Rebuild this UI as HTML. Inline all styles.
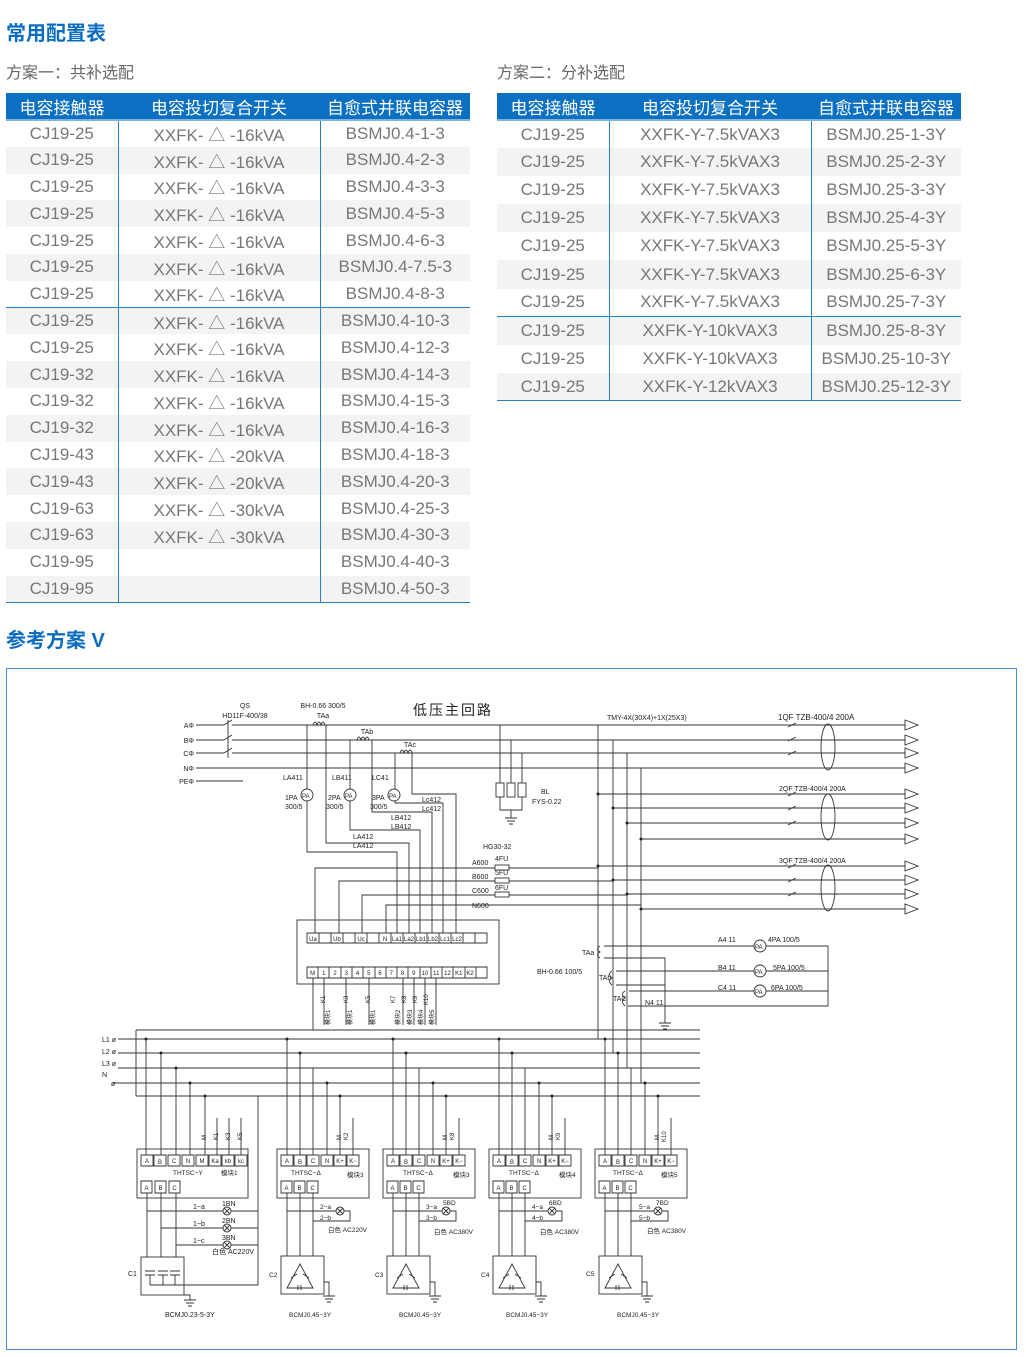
<!DOCTYPE html>
<html><head><meta charset="utf-8">
<style>
*{margin:0;padding:0;box-sizing:border-box}
body{width:1026px;height:1357px;background:#fff;position:relative;font-family:"Liberation Sans","Noto Sans CJK SC",sans-serif;overflow:hidden}
.h{position:absolute;color:#0a6cc0;font-weight:bold;font-size:20px;font-family:"Liberation Sans","Noto Sans CJK SC",sans-serif}
.s{position:absolute;color:#666;font-size:16px}
table{position:absolute;border-collapse:collapse;table-layout:fixed;width:464px;font-size:17px;color:#777}
th{background:#0b70c2;color:#fff;font-weight:normal;height:27px;font-size:17px;border-bottom:2px solid #7fb4de}
td{text-align:center;padding:0;white-space:nowrap}
td+td{border-left:1px solid #2a80c6}
tr:nth-child(even) td{background:#f3f3f3}
tr.sep td{border-top:1px solid #2a80c6}
tbody tr:last-child td{border-bottom:1px solid #2a80c6}
#t1 td{height:26.8px}
#t2 td{height:28.1px}
svg{position:absolute;left:0;top:0}
svg text{font-family:"Liberation Sans","Noto Sans CJK SC",sans-serif;fill:#222}
.c{text-anchor:middle;font-size:6px}
</style></head><body>
<div class="h" style="left:6px;top:17px">常用配置表</div>
<div class="s" style="left:6px;top:59px">方案一：共补选配</div>
<div class="s" style="left:497px;top:59px">方案二：分补选配</div>
<div class="h" style="left:6px;top:624px">参考方案 V</div>

<table id="t1" style="left:6px;top:93px">
<colgroup><col style="width:112px"><col style="width:202px"><col style="width:150px"></colgroup>
<thead><tr><th>电容接触器</th><th>电容投切复合开关</th><th>自愈式并联电容器</th></tr></thead>
<tbody>
<tr><td>CJ19-25</td><td>XXFK- △ -16kVA</td><td>BSMJ0.4-1-3</td></tr>
<tr><td>CJ19-25</td><td>XXFK- △ -16kVA</td><td>BSMJ0.4-2-3</td></tr>
<tr><td>CJ19-25</td><td>XXFK- △ -16kVA</td><td>BSMJ0.4-3-3</td></tr>
<tr><td>CJ19-25</td><td>XXFK- △ -16kVA</td><td>BSMJ0.4-5-3</td></tr>
<tr><td>CJ19-25</td><td>XXFK- △ -16kVA</td><td>BSMJ0.4-6-3</td></tr>
<tr><td>CJ19-25</td><td>XXFK- △ -16kVA</td><td>BSMJ0.4-7.5-3</td></tr>
<tr><td>CJ19-25</td><td>XXFK- △ -16kVA</td><td>BSMJ0.4-8-3</td></tr>
<tr class="sep"><td>CJ19-25</td><td>XXFK- △ -16kVA</td><td>BSMJ0.4-10-3</td></tr>
<tr><td>CJ19-25</td><td>XXFK- △ -16kVA</td><td>BSMJ0.4-12-3</td></tr>
<tr><td>CJ19-32</td><td>XXFK- △ -16kVA</td><td>BSMJ0.4-14-3</td></tr>
<tr><td>CJ19-32</td><td>XXFK- △ -16kVA</td><td>BSMJ0.4-15-3</td></tr>
<tr><td>CJ19-32</td><td>XXFK- △ -16kVA</td><td>BSMJ0.4-16-3</td></tr>
<tr><td>CJ19-43</td><td>XXFK- △ -20kVA</td><td>BSMJ0.4-18-3</td></tr>
<tr><td>CJ19-43</td><td>XXFK- △ -20kVA</td><td>BSMJ0.4-20-3</td></tr>
<tr><td>CJ19-63</td><td>XXFK- △ -30kVA</td><td>BSMJ0.4-25-3</td></tr>
<tr><td>CJ19-63</td><td>XXFK- △ -30kVA</td><td>BSMJ0.4-30-3</td></tr>
<tr><td>CJ19-95</td><td></td><td>BSMJ0.4-40-3</td></tr>
<tr><td>CJ19-95</td><td></td><td>BSMJ0.4-50-3</td></tr>
</tbody></table>

<table id="t2" style="left:497px;top:93px">
<colgroup><col style="width:112px"><col style="width:202px"><col style="width:150px"></colgroup>
<thead><tr><th>电容接触器</th><th>电容投切复合开关</th><th>自愈式并联电容器</th></tr></thead>
<tbody>
<tr><td>CJ19-25</td><td>XXFK-Y-7.5kVAX3</td><td>BSMJ0.25-1-3Y</td></tr>
<tr><td>CJ19-25</td><td>XXFK-Y-7.5kVAX3</td><td>BSMJ0.25-2-3Y</td></tr>
<tr><td>CJ19-25</td><td>XXFK-Y-7.5kVAX3</td><td>BSMJ0.25-3-3Y</td></tr>
<tr><td>CJ19-25</td><td>XXFK-Y-7.5kVAX3</td><td>BSMJ0.25-4-3Y</td></tr>
<tr><td>CJ19-25</td><td>XXFK-Y-7.5kVAX3</td><td>BSMJ0.25-5-3Y</td></tr>
<tr><td>CJ19-25</td><td>XXFK-Y-7.5kVAX3</td><td>BSMJ0.25-6-3Y</td></tr>
<tr><td>CJ19-25</td><td>XXFK-Y-7.5kVAX3</td><td>BSMJ0.25-7-3Y</td></tr>
<tr class="sep"><td>CJ19-25</td><td>XXFK-Y-10kVAX3</td><td>BSMJ0.25-8-3Y</td></tr>
<tr><td>CJ19-25</td><td>XXFK-Y-10kVAX3</td><td>BSMJ0.25-10-3Y</td></tr>
<tr><td>CJ19-25</td><td>XXFK-Y-12kVAX3</td><td>BSMJ0.25-12-3Y</td></tr>
</tbody></table>

<svg width="1026" height="1357" viewBox="0 0 1026 1357">
<rect x="6.5" y="668.5" width="1010" height="681" fill="none" stroke="#4a8fd2" stroke-width="1"/>
<g stroke="#333" stroke-width="0.9" fill="none">
<path d="M196 725H224 M232 725H905 M196 740H224 M232 740H905 M196 753H224 M232 753H905 M196 768H905 M196 781H243"/>
<path d="M224 725L232 720 M224 740L232 735 M224 753L232 748 M228 720V758"/>
<path d="M598 794H905 M613 808H905 M627 823H905 M641 839H905 M598 866H905 M613 880H905 M627 894H905 M641 909H905"/>
<path d="M598 725V1039 M613 740V1053 M627 753V1068 M641 768V1083"/>
<path d="M905 720L918 725L905 730Z M905 735L918 740L905 745Z M905 748L918 753L905 758Z M905 763L918 768L905 773Z M905 789L918 794L905 799Z M905 803L918 808L905 813Z M905 818L918 823L905 828Z M905 834L918 839L905 844Z M905 861L918 866L905 871Z M905 875L918 880L905 885Z M905 889L918 894L905 899Z M905 904L918 909L905 914Z" fill="#fff"/>
<ellipse cx="828" cy="747" rx="7" ry="23"/><ellipse cx="828" cy="817" rx="7" ry="23"/><ellipse cx="828" cy="888" rx="7" ry="23"/>
<path d="M788 727l8-4 M788 741l8-4 M788 755l8-4 M788 796l8-4 M788 810l8-4 M788 825l8-4 M788 868l8-4 M788 882l8-4 M788 896l8-4"/>
<path d="M313 725q2-6 4 0q2-6 4 0q2-6 4 0 M357 740q2-6 4 0q2-6 4 0q2-6 4 0 M400 753q2-6 4 0q2-6 4 0q2-6 4 0"/>
<path d="M313 725H307V852H397V933 M325 725H326V843H409V933 M357 740H350V830H420V933 M369 740H372V812H432V933 M400 753H395V803H443V933 M412 753V794H456V933"/>
<path d="M500 725V783 M511 740V783 M522 753V783 M500 797V810H522V797 M511 810V818 M505 818H517 M507 821H515 M509 824H513"/>
<rect x="496" y="783" width="8" height="14"/><rect x="507" y="783" width="8" height="14"/><rect x="518" y="783" width="8" height="14"/>
<path d="M315 933V868H495 M509 868H598 M339 933V881H495 M509 881H613 M362 933V895H495 M509 895H627 M386 933V905H641"/>
<rect x="495" y="865" width="14" height="5"/><rect x="495" y="878" width="14" height="5"/><rect x="495" y="892" width="14" height="5"/>
<rect x="297" y="920" width="202" height="64"/>
<path d="M307 933H487V943H307Z M307 967H487V978H307Z"/>
<path d="M319 933v10 M331 933v10 M343 933v10 M355 933v10 M367 933v10 M379 933v10 M391 933v10 M403 933v10 M415 933v10 M427 933v10 M439 933v10 M451 933v10 M463 933v10 M475 933v10"/>
<path d="M318 967v11 M329 967v11 M341 967v11 M352 967v11 M363 967v11 M375 967v11 M386 967v11 M397 967v11 M408 967v11 M420 967v11 M431 967v11 M442 967v11 M453 967v11 M465 967v11 M476 967v11"/>
<path d="M313 978V1030 M324 978V1025 M346 978V1025 M369 978V1025 M403 978V1025 M414 978V1025 M425 978V1025 M436 978V1025"/>
<path d="M604 946H828V1006H628 M604 958H665V1023 M659 1023h12 M661 1026h8 M663 1029h4 M616 971H828 M616 985H665 M629 991H828 M600 946q-5 3 0 6q-5 3 0 6 M612 971q-5 3 0 7q-5 3 0 7 M625 991q-5 3 0 7q-5 3 0 8"/>
<circle cx="760" cy="946" r="6" fill="#fff"/><circle cx="760" cy="971" r="6" fill="#fff"/><circle cx="760" cy="991" r="6" fill="#fff"/>
<circle cx="307" cy="795" r="6" fill="#fff"/><circle cx="350" cy="795" r="6" fill="#fff"/><circle cx="394" cy="795" r="6" fill="#fff"/>
<path d="M118 1039H700 M118 1053H700 M118 1068H700 M113 1083H700 M136 1096H700 M136 1030H700 M136 1030V1096"/>
<rect x="137" y="1149" width="111" height="49"/>
<path d="M141 1155h12v11h-12z M154 1155h12v11h-12z M168 1155h12v11h-12z M182 1155h12v11h-12z M196 1155h12v11h-12z M209 1155h12v11h-12z M222 1155h12v11h-12z M235 1155h12v11h-12z M141 1181h11v12h-11z M155 1181h11v12h-11z M169 1181h11v12h-11z"/>
<path d="M146 1039V1155 M161 1053V1155 M176 1068V1155 M190 1083V1155 M205 1096V1155 M217 1118V1155 M229 1118V1155 M241 1118V1155"/>
<path d="M147 1193V1257 M161 1193V1257 M176 1193V1257 M147 1211H258 M161 1228H258 M176 1245H258 M258 1096V1285H184"/>
<rect x="141" y="1257" width="43" height="38"/>
<path d="M145 1271h10 M145 1275h10 M170 1271h10 M170 1275h10 M158 1271h10 M158 1275h10 M150 1275v10 M163 1275v10 M175 1275v10 M150 1285H184 M184 1295H190V1300 M184 1300h12 M186 1303h8 M188 1306h4"/>
<circle cx="227" cy="1211" r="4" fill="#fff"/><circle cx="227" cy="1228" r="4" fill="#fff"/><circle cx="227" cy="1245" r="4" fill="#fff"/>
</g>
<defs>
<g id="mod">
<g stroke="#333" stroke-width="0.9" fill="none">
<rect x="0" y="1149" width="92" height="49"/>
<path d="M4 1155h12v11h-12z M17 1155h12v11h-12z M30 1155h12v11h-12z M44 1155h12v11h-12z M57 1155h12v11h-12z M70 1155h12v11h-12z M4 1181h11v12h-11z M17 1181h11v12h-11z M30 1181h11v12h-11z"/>
<path d="M10 1039V1155 M23 1053V1155 M36 1068V1155 M50 1083V1155 M63 1096V1155 M76 1118V1155"/>
<path d="M10 1193V1256 M23 1193V1256 M36 1193V1256 M10 1211H73V1221H36"/>
<rect x="4" y="1256" width="43" height="38"/>
<path d="M10 1288L23 1264L36 1288Z M14 1278l6-4 M26 1274l6 4 M21 1285v5 M24 1285v5 M47 1282H52V1296 M46 1296h12 M48 1299h8 M50 1302h4"/>
<circle cx="63" cy="1211" r="4" fill="#fff"/>
<path d="M60 1208l6 6 M66 1208l-6 6"/>
</g>
<g font-size="6">
<text class="c" x="10" y="1163">A</text><text class="c" x="23" y="1164">B</text><text class="c" x="36" y="1163">C</text><text class="c" x="50" y="1163">N</text><text class="c" x="63" y="1163">K+</text><text class="c" x="76" y="1163">K−</text>
<text class="c" x="9.5" y="1190">A</text><text class="c" x="22.5" y="1190">B</text><text class="c" x="35.5" y="1190">C</text>
</g>
</g>
</defs>
<use href="#mod" x="277"/><use href="#mod" x="383"/><use href="#mod" x="489"/><use href="#mod" x="595"/>
<g stroke="#333" stroke-width="0.9"><path d="M224 1208l6 6 M230 1208l-6 6 M224 1225l6 6 M230 1225l-6 6 M224 1242l6 6 M230 1242l-6 6"/></g>
<g fill="#222">
<circle cx="146" cy="1039" r="1.5"/><circle cx="161" cy="1053" r="1.5"/><circle cx="176" cy="1068" r="1.5"/><circle cx="190" cy="1083" r="1.5"/><circle cx="205" cy="1096" r="1.5"/>
<circle cx="287" cy="1039" r="1.5"/><circle cx="300" cy="1053" r="1.5"/><circle cx="327" cy="1083" r="1.5"/><circle cx="340" cy="1096" r="1.5"/>
<circle cx="393" cy="1039" r="1.5"/><circle cx="406" cy="1053" r="1.5"/><circle cx="433" cy="1083" r="1.5"/><circle cx="446" cy="1096" r="1.5"/>
<circle cx="499" cy="1039" r="1.5"/><circle cx="512" cy="1053" r="1.5"/><circle cx="539" cy="1083" r="1.5"/><circle cx="552" cy="1096" r="1.5"/>
<circle cx="605" cy="1039" r="1.5"/><circle cx="618" cy="1053" r="1.5"/><circle cx="645" cy="1083" r="1.5"/><circle cx="658" cy="1096" r="1.5"/>
<circle cx="598" cy="794" r="1.5"/><circle cx="613" cy="808" r="1.5"/><circle cx="627" cy="823" r="1.5"/><circle cx="641" cy="839" r="1.5"/>
<circle cx="598" cy="866" r="1.5"/><circle cx="613" cy="880" r="1.5"/><circle cx="627" cy="894" r="1.5"/><circle cx="641" cy="909" r="1.5"/>
</g>
<g font-size="7">
<text x="194" y="728" text-anchor="end">AΦ</text><text x="194" y="743" text-anchor="end">BΦ</text><text x="194" y="756" text-anchor="end">CΦ</text><text x="194" y="771" text-anchor="end">NΦ</text><text x="194" y="784" text-anchor="end">PEΦ</text>
<text x="245" y="708" text-anchor="middle">QS</text><text x="245" y="718" text-anchor="middle">HD11F-400/38</text>
<text x="323" y="708" text-anchor="middle">BH-0.66 300/5</text><text x="323" y="718" text-anchor="middle">TAa</text>
<text x="367" y="734" text-anchor="middle">TAb</text><text x="410" y="747" text-anchor="middle">TAc</text>
<text x="283" y="780">LA411</text><text x="332" y="780">LB411</text><text x="372" y="780">LC41</text>
<text x="285" y="800">1PA</text><text x="285" y="809">300/5</text><text x="328" y="800">2PA</text><text x="326" y="809">300/5</text><text x="372" y="800">3PA</text><text x="370" y="809">300/5</text>
<text x="422" y="802">Lc412</text><text x="422" y="811">Lc412</text><text x="391" y="820">LB412</text><text x="391" y="829">LB412</text><text x="353" y="839">LA412</text><text x="353" y="848">LA412</text>
<text x="541" y="794">BL</text><text x="532" y="804">FYS-0.22</text>
<text x="483" y="849">HG30-32</text>
<text x="472" y="865">A600</text><text x="495" y="861">4FU</text><text x="472" y="879">B600</text><text x="495" y="875">5FU</text><text x="472" y="893">C600</text><text x="495" y="890">6FU</text><text x="472" y="908">N600</text>
<text x="607" y="720">TMY-4X(30X4)+1X(25X3)</text>
<text x="778" y="720" font-size="8">1QF  TZB-400/4  200A</text>
<text x="779" y="791">2QF TZB-400/4 200A</text><text x="779" y="863">3QF TZB-400/4 200A</text>
<text x="718" y="942">A4 11</text><text x="718" y="970">B4 11</text><text x="718" y="990">C4 11</text><text x="645" y="1005">N4 11</text>
<text x="768" y="942">4PA 100/5</text><text x="773" y="970">5PA 100/5</text><text x="771" y="990">6PA 100/5</text>
<text x="755" y="949" font-size="6">PA</text><text x="755" y="974" font-size="6">PA</text><text x="755" y="994" font-size="6">PA</text>
<text x="302" y="798" font-size="6">PA</text><text x="345" y="798" font-size="6">PA</text><text x="389" y="798" font-size="6">PA</text>
<text x="582" y="955">TAa</text><text x="599" y="980">TAb</text><text x="613" y="1001">TAC</text><text x="537" y="974">BH-0.66 100/5</text>
<g font-size="6">
<text class="c" x="313" y="941">Ua</text><text class="c" x="337" y="941">Ub</text><text class="c" x="361" y="941">Uc</text><text class="c" x="385" y="941">N</text>
<text class="c" x="397" y="941" font-size="5">La1</text><text class="c" x="409" y="941" font-size="5">La2</text><text class="c" x="421" y="941" font-size="5">Lb1</text><text class="c" x="433" y="941" font-size="5">Lb2</text><text class="c" x="445" y="941" font-size="5">Lc1</text><text class="c" x="457" y="941" font-size="5">Lc2</text>
<text class="c" x="312.6" y="975">M</text><text class="c" x="323.8" y="975">1</text><text class="c" x="335" y="975">2</text><text class="c" x="346.3" y="975">3</text><text class="c" x="357.5" y="975">4</text><text class="c" x="368.8" y="975">5</text><text class="c" x="380" y="975">6</text><text class="c" x="391.3" y="975">7</text><text class="c" x="402.5" y="975">8</text><text class="c" x="413.8" y="975">9</text><text class="c" x="425" y="975">10</text><text class="c" x="436.3" y="975">11</text><text class="c" x="447.5" y="975">12</text><text class="c" x="458.8" y="975">K1</text><text class="c" x="470" y="975">K2</text>
<text transform="translate(325,1003) rotate(-90)">K1</text><text transform="translate(348,1003) rotate(-90)">K3</text><text transform="translate(370,1003) rotate(-90)">K5</text>
<text transform="translate(395,1003) rotate(-90)">K7</text><text transform="translate(406,1003) rotate(-90)">K8</text><text transform="translate(417,1003) rotate(-90)">K9</text><text transform="translate(428,1005) rotate(-90)">K10</text>
<text transform="translate(330,1025) rotate(-90)">模块1</text><text transform="translate(352,1025) rotate(-90)">模块1</text><text transform="translate(375,1025) rotate(-90)">模块1</text>
<text transform="translate(400,1025) rotate(-90)">模块2</text><text transform="translate(412,1025) rotate(-90)">模块3</text><text transform="translate(423,1025) rotate(-90)">模块4</text><text transform="translate(434,1025) rotate(-90)">模块5</text>
<text transform="translate(206,1140) rotate(-90)">M</text><text transform="translate(218,1140) rotate(-90)">K1</text><text transform="translate(230,1140) rotate(-90)">K3</text><text transform="translate(242,1140) rotate(-90)">K5</text>
<text transform="translate(341,1140) rotate(-90)">M</text><text transform="translate(348,1140) rotate(-90)">K2</text>
<text transform="translate(447,1140) rotate(-90)">M</text><text transform="translate(454,1140) rotate(-90)">K8</text>
<text transform="translate(553,1140) rotate(-90)">M</text><text transform="translate(560,1140) rotate(-90)">K9</text>
<text transform="translate(659,1140) rotate(-90)">M</text><text transform="translate(666,1142) rotate(-90)">K10</text>
<text class="c" x="147" y="1163">A</text><text class="c" x="160" y="1164">B</text><text class="c" x="174" y="1163">C</text><text class="c" x="188" y="1163">N</text><text class="c" x="202" y="1163">M</text><text class="c" x="215" y="1163" font-size="5">Ka</text><text class="c" x="228" y="1163" font-size="5">kb</text><text class="c" x="241" y="1163" font-size="5">kc</text>
<text class="c" x="146.5" y="1190">A</text><text class="c" x="160.5" y="1190">B</text><text class="c" x="174.5" y="1190">C</text>
</g>
<text x="102" y="1042">L1 ø</text><text x="102" y="1054">L2 ø</text><text x="102" y="1066">L3 ø</text><text x="102" y="1077">N</text><text x="111" y="1086">ø</text>
<text x="173" y="1175" font-size="6.5">THTSC−Y</text><text x="221" y="1175" font-size="6.5">模块1</text>
<text x="193" y="1209">1−a</text><text x="193" y="1226">1−b</text><text x="193" y="1243">1−c</text>
<text x="222" y="1206">1BN</text><text x="222" y="1223">2BN</text><text x="222" y="1240">3BN</text><text x="212" y="1254">白色 AC220V</text>
<text x="128" y="1276">C1</text><text x="165" y="1317">BCMJ0.23-5-3Y</text>
<g font-size="6.5">
<text x="291" y="1175">THTSC−Δ</text><text x="347" y="1177">模块3</text>
<text x="320" y="1209">2−a</text><text x="320" y="1220">2−b</text><text x="328" y="1232">白色 AC220V</text><text x="269" y="1277">C2</text><text x="289" y="1317">BCMJ0.45−3Y</text>
<text x="403" y="1175">THTSC−Δ</text><text x="453" y="1177">模块3</text>
<text x="426" y="1209">3−a</text><text x="426" y="1220">3−b</text><text x="443" y="1205">5BD</text><text x="434" y="1234">白色 AC380V</text><text x="375" y="1277">C3</text><text x="399" y="1317">BCMJ0.45−3Y</text>
<text x="509" y="1175">THTSC−Δ</text><text x="559" y="1177">模块4</text>
<text x="532" y="1209">4−a</text><text x="532" y="1220">4−b</text><text x="549" y="1205">6BD</text><text x="540" y="1234">白色 AC380V</text><text x="481" y="1277">C4</text><text x="506" y="1317">BCMJ0.45−3Y</text>
<text x="613" y="1175">THTSC−Δ</text><text x="661" y="1177">模块5</text>
<text x="639" y="1209">5−a</text><text x="639" y="1220">5−b</text><text x="656" y="1205">7BD</text><text x="647" y="1233">白色 AC380V</text><text x="586" y="1276">C5</text><text x="617" y="1317">BCMJ0.45−3Y</text>
</g>
</g>
<text x="453" y="715" font-size="14" text-anchor="middle" letter-spacing="2">低压主回路</text>
</svg>
</body></html>
